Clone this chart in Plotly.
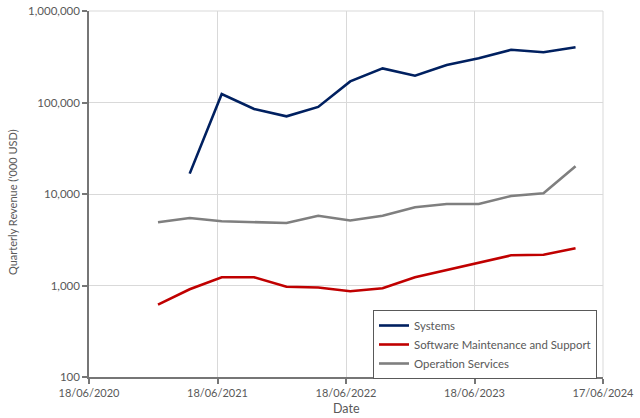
import plotly.graph_objects as go

# Quarter-end dates
dates = ["2020-12-31", "2021-03-31", "2021-06-30", "2021-09-30", "2021-12-31",
         "2022-03-31", "2022-06-30", "2022-09-30", "2022-12-31",
         "2023-03-31", "2023-06-30", "2023-09-30", "2023-12-31", "2024-03-31"]

systems = [None, 16700, 124000, 85000, 70600, 89500, 170000, 236000, 196000,
           257000, 304000, 377000, 354000, 401000]
software_support = [617, 909, 1230, 1230, 970, 950, 864, 931, 1230,
                    1477, 1749, 2138, 2172, 2549]
operation_services = [4910, 5470, 5030, 4940, 4820, 5790, 5130, 5790, 7160,
                      7780, 7780, 9510, 10180, 20090]

x_tick_vals = ["2020-06-18", "2021-06-18", "2022-06-18", "2023-06-18", "2024-06-17"]
x_tick_text = ["18/06/2020", "18/06/2021", "18/06/2022", "18/06/2023", "17/06/2024"]
y_tick_vals = [100, 1000, 10000, 100000, 1000000]
y_tick_text = ["100", "1,000", "10,000", "100,000", "1,000,000"]

FONT = "Lato"
TXT = "#595959"
GRID = "#D9D9D9"

fig = go.Figure()
fig.add_trace(go.Scatter(x=dates, y=systems, mode="lines", name="Systems",
                         line=dict(color="#002060", width=2.6)))
fig.add_trace(go.Scatter(x=dates, y=software_support, mode="lines",
                         name="Software Maintenance and Support",
                         line=dict(color="#C00000", width=2.6)))
fig.add_trace(go.Scatter(x=dates, y=operation_services, mode="lines",
                         name="Operation Services",
                         line=dict(color="#7F7F7F", width=2.6)))

W, H = 640, 418
L, T, PW, PH = 89, 11, 514, 366
fig.update_layout(
    width=W, height=H,
    margin=dict(l=L, r=W - L - PW, t=T, b=H - T - PH, autoexpand=False),
    paper_bgcolor="white", plot_bgcolor="white",
    font=dict(family=FONT, size=12, color=TXT),
    showlegend=True,
    legend=dict(x=(373 - L) / PW, y=(T + PH - 310) / PH, xanchor="left", yanchor="top",
                bordercolor="#595959", borderwidth=1, bgcolor="white",
                font=dict(family=FONT, size=11.4, color=TXT),
                itemwidth=30, tracegroupgap=0),
    annotations=[
        dict(text="Quarterly Revenue ('000 USD)", xref="paper", yref="paper",
             x=(12 - L) / PW, y=(T + PH - 202) / PH, xanchor="center", yanchor="middle",
             textangle=-90, showarrow=False,
             font=dict(family=FONT, size=11, color=TXT)),
        dict(text="Date", xref="paper", yref="paper",
             x=0.5, y=-(408 - (T + PH)) / PH, xanchor="center", yanchor="middle",
             showarrow=False, font=dict(family=FONT, size=12.5, color=TXT)),
    ],
    shapes=[
        dict(type="line", xref="paper", yref="paper", x0=0, x1=1, y0=1, y1=1,
             line=dict(color=GRID, width=1), layer="below"),
        dict(type="line", xref="paper", yref="paper", x0=1, x1=1, y0=0, y1=1,
             line=dict(color=GRID, width=1), layer="below"),
    ],
)
fig.update_xaxes(
    type="date", range=["2020-06-18", "2024-06-17"],
    tickvals=x_tick_vals, ticktext=x_tick_text,
    showgrid=True, gridcolor=GRID, gridwidth=1,
    showline=True, linecolor="#767676", linewidth=1.5,
    ticks="outside", ticklen=5, tickcolor="#767676", tickwidth=1.5,
    tickfont=dict(family=FONT, size=11, color=TXT),
    zeroline=False, automargin=False,
)
fig.update_yaxes(
    type="log", range=[2, 6],
    tickvals=y_tick_vals, ticktext=y_tick_text,
    showgrid=True, gridcolor=GRID, gridwidth=1,
    showline=True, linecolor="#767676", linewidth=1.5,
    ticks="outside", ticklen=5, tickcolor="#767676", tickwidth=1.5,
    tickfont=dict(family=FONT, size=11.5, color=TXT),
    zeroline=False, automargin=False,
)

# remove the browser's default 8px body margin so the figure sits at the page origin
fig.write_html("out.html", config={"displayModeBar": False},
               post_script="document.body.style.margin='0';")
